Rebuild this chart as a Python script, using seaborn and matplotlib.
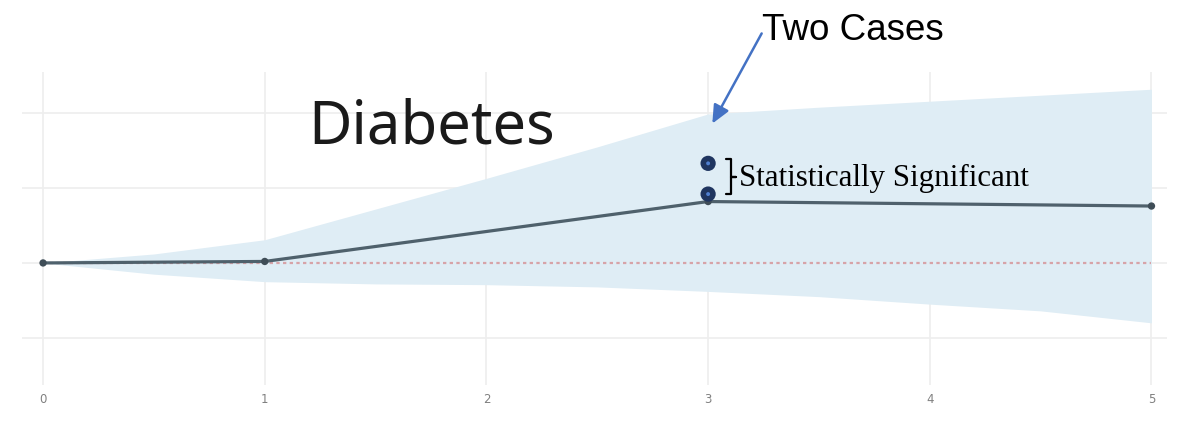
import numpy as np
import pandas as pd
import matplotlib
matplotlib.use("Agg")
import matplotlib.pyplot as plt
import seaborn as sns
from matplotlib.patches import FancyArrowPatch
from matplotlib.lines import Line2D

# Follow-up years and estimated effect
years = [0, 1, 3, 5]
effect = [0.0, 0.02, 0.82, 0.76]

# Confidence band (upper / lower bounds)
band_x = [0, 0.5, 1, 1.5, 2, 2.5, 3, 3.5, 4, 4.5, 5]
band_upper = [0.0, 0.12, 0.31, 0.72, 1.13, 1.55, 1.99, 2.08, 2.16, 2.24, 2.32]
band_lower = [0.0, -0.15, -0.25, -0.28, -0.29, -0.32, -0.38, -0.45, -0.55, -0.64, -0.80]

# The two flagged cases at year 3
case_x = [3, 3]
case_y = [1.33, 0.92]

tick_labels = ["0", "1", "2", "3", "4", "5"]

sns.set_style("whitegrid")

fig = plt.figure(figsize=(11.88, 4.26), dpi=100)
W, H = 1188, 426
ax = fig.add_axes([22 / W, 1 - 385 / H, (1167 - 22) / W, (385 - 72) / H])

ax.fill_between(band_x, band_lower, band_upper, color="#dfedf5", linewidth=0, zorder=1)

ax.plot([0, 5], [0, 0], color="#d7a3a8", linestyle=(0, (1.5, 1.5)), linewidth=1.6, zorder=2)

df = pd.DataFrame({"year": years, "effect": effect})
sns.lineplot(data=df, x="year", y="effect", ax=ax, color="#4f616c", linewidth=2.3, zorder=3)
sns.scatterplot(data=df, x="year", y="effect", ax=ax, color="#3f4d57", s=28,
                edgecolor="none", zorder=4)

cases = pd.DataFrame({"x": case_x, "y": case_y})
sns.scatterplot(data=cases, x="x", y="y", ax=ax, color="#1f3560", s=120,
                edgecolor="none", zorder=6)
sns.scatterplot(data=cases, x="x", y="y", ax=ax, color="#4f7fd0", s=8,
                edgecolor="none", zorder=7)

ax.set_xlim(-0.095, 5.07)
ax.set_ylim(-1.63, 2.55)
ax.set_xticks(range(6))
ax.set_xticklabels(tick_labels)
ax.set_yticks([-1, 0, 1, 2])
ax.set_yticklabels([])
ax.set_xlabel("")
ax.set_ylabel("")
ax.grid(True, color="#eeeeee", linewidth=1.2)
for s in ax.spines.values():
    s.set_visible(False)
ax.tick_params(axis="x", length=0, pad=6, labelsize=8.5, labelcolor="#808080")
ax.tick_params(axis="y", length=0)
ax.set_axisbelow(True)

fig.text(308 / W, 1 - 127 / H, "Diabetes", fontsize=43, family="Noto Sans",
         color="#1a1a1a", va="center", ha="left")

# Bracket grouping the two cases
bx0, bx1, bx2 = 726 / W, 731 / W, 736 / W
by_top, by_mid, by_bot = 1 - 159 / H, 1 - 177 / H, 1 - 194 / H
bracket = Line2D([bx0, bx1, bx1, bx2, bx1, bx1, bx0],
                 [by_top, by_top, by_mid, by_mid, by_mid, by_bot, by_bot],
                 transform=fig.transFigure, color="black", linewidth=1.6)
fig.lines.append(bracket)
fig.text(739 / W, 1 - 178 / H, "Statistically Significant", fontsize=22.3,
         family="Liberation Serif", color="black", va="center", ha="left")

# Callout with arrow
fig.text(762 / W, 1 - 30 / H, "Two Cases", fontsize=26.5, family="Liberation Sans",
         color="black", va="center", ha="left")
arrow = FancyArrowPatch((763 / W, 1 - 31 / H), (711 / W, 1 - 126 / H),
                        transform=fig.transFigure,
                        arrowstyle="-|>,head_length=11,head_width=5",
                        color="#4472c4", linewidth=1.8, mutation_scale=1)
fig.patches.append(arrow)

fig.savefig("out.png", dpi=100)
